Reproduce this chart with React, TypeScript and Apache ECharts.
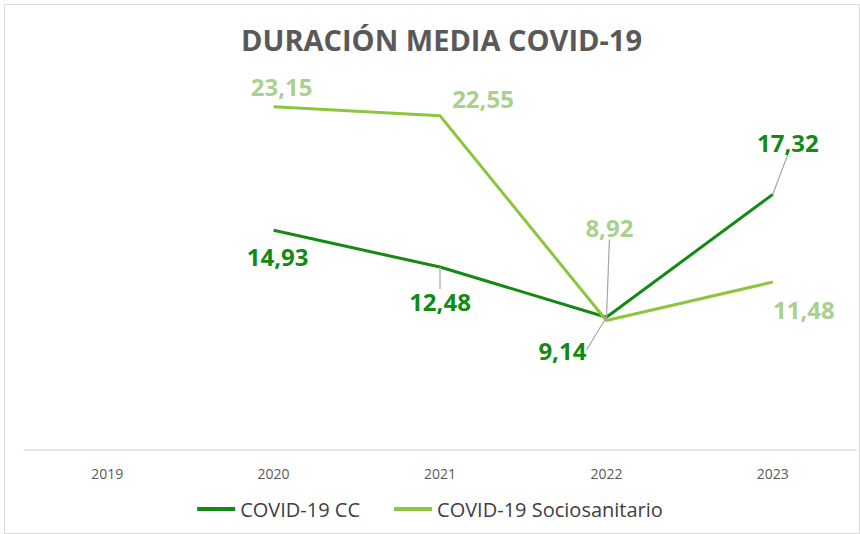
import React, { useEffect, useRef } from "react";
import * as echarts from "echarts";

const years = ["2019", "2020", "2021", "2022", "2023"];
const ccValues: (number | null)[] = [null, 14.93, 12.48, 9.14, 17.32];
const socioValues: (number | null)[] = [null, 23.15, 22.55, 8.92, 11.48];
const titleText = "DURACIÓN MEDIA COVID-19";
const seriesNames = ["COVID-19 CC", "COVID-19 Sociosanitario"];

// label offsets relative to point (dx, dy) and whether to show guide line
const ccLabelPos: [number, number, boolean][] = [
  [0, 0, false],
  [4, 26, false],
  [0, 34, true],
  [-44, 33, true],
  [15, -52, true],
];
const socioLabelPos: [number, number, boolean][] = [
  [0, 0, false],
  [8, -20, false],
  [43, -17, false],
  [3, -93, true],
  [31, 27, false],
];

const fmt = (v: number) => v.toFixed(2).replace(".", ",");

export default function App() {
  const ref = useRef<HTMLDivElement>(null);
  useEffect(() => {
    if (!ref.current) return;
    const chart = echarts.init(ref.current, null, { renderer: "svg" });
    const mk = (vals: (number | null)[], pos: [number, number, boolean][]) =>
      vals.map((v, i) => ({
        value: v,
        labelLine: { show: pos[i][2] },
      }));
    const layoutFor = (pos: [number, number, boolean][]) => (p: any) => {
      const [dx, dy] = pos[p.dataIndex];
      return { dx, dy };
    };
    const mkLabel = (color: string) => ({
      show: true,
      position: "inside",
      formatter: (p: any) => fmt(p.value),
      fontFamily: "Open Sans",
      fontWeight: "bold",
      fontSize: 24,
      color,
    });
    chart.setOption({
      animation: false,
      backgroundColor: "#ffffff",
      title: {
        text: titleText,
        left: 236,
        top: 20,
        textStyle: {
          fontFamily: "Open Sans",
          fontWeight: "bold",
          fontSize: 29,
          color: "#595959",
        },
      },
      legend: {
        bottom: 10,
        left: "center",
        itemWidth: 38,
        itemHeight: 4,
        itemGap: 34,
        icon: "rect",
        textStyle: { fontFamily: "Open Sans", fontSize: 20, color: "#404040" },
        data: seriesNames,
      },
      grid: { left: 24, right: 4, top: 79, bottom: 84 },
      xAxis: {
        type: "category",
        data: years,
        boundaryGap: true,
        axisLine: { onZero: false, lineStyle: { color: "#d9d9d9", width: 1.5 } },
        axisTick: { show: false },
        axisLabel: {
          margin: 16,
          fontFamily: "Open Sans",
          fontSize: 14,
          color: "#595959",
        },
      },
      yAxis: {
        type: "value",
        min: 0.3,
        max: 25,
        show: false,
        splitLine: { show: false },
      },
      series: [
        {
          name: seriesNames[0],
          type: "line",
          data: mk(ccValues, ccLabelPos),
          symbol: "circle",
          symbolSize: 0.1,
          showSymbol: true,
          lineStyle: { color: "#138a13", width: 3 },
          itemStyle: { color: "#138a13" },
          label: mkLabel("#138a13"),
          labelLine: { show: true, lineStyle: { color: "#a6a6a6", width: 1.2 } },
          labelLayout: layoutFor(ccLabelPos),
        },
        {
          name: seriesNames[1],
          type: "line",
          data: mk(socioValues, socioLabelPos),
          symbol: "circle",
          symbolSize: 0.1,
          showSymbol: true,
          lineStyle: { color: "#8cc63f", width: 3 },
          itemStyle: { color: "#8cc63f" },
          label: mkLabel("#a9d18e"),
          labelLine: { show: true, lineStyle: { color: "#a6a6a6", width: 1.2 } },
          labelLayout: layoutFor(socioLabelPos),
        },
      ],
      graphic: [
        {
          type: "rect",
          left: 2,
          top: 2,
          shape: { width: 855, height: 529 },
          style: { fill: "none", stroke: "#d9d9d9", lineWidth: 1 },
          silent: true,
        },
      ],
    });
    return () => chart.dispose();
  }, []);
  return (
    <div
      ref={ref}
      style={{ position: "fixed", left: 0, top: 0, width: 860, height: 534 }}
    />
  );
}
